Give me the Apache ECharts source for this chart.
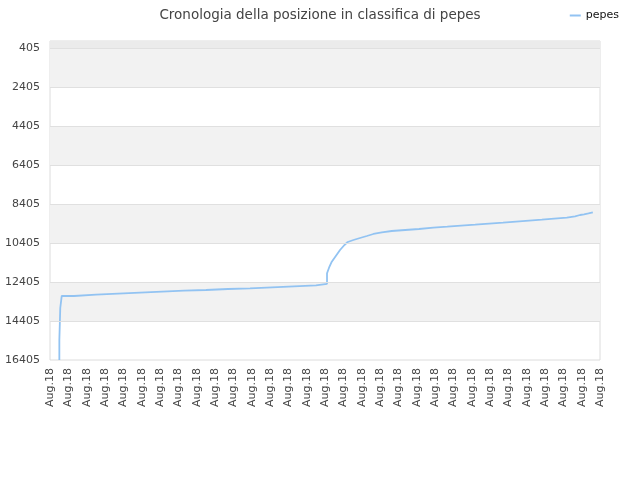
<!DOCTYPE html>
<html>
<head>
<meta charset="utf-8">
<script src="https://cdn.jsdelivr.net/npm/echarts@6/dist/echarts.min.js"></script>
<style>html,body{margin:0;padding:0;background:#fff}#c{width:640px;height:480px}</style>
</head>
<body>
<div id="c"></div>
<script>
// Day of month (fractional) and ranking position (corners included)
const days = [0.51, 0.51, 0.56, 0.56, 0.64, 0.64,
  1.31, 1.31, 2.51, 2.51, 3.71, 3.71, 4.91, 4.91, 6.11, 6.11, 7.31, 7.31, 8.51, 8.51, 9.71, 9.71,
  10.91, 10.91, 12.11, 12.11, 13.31, 13.31, 14.51, 14.51, 15.11, 15.11,
  15.22, 15.37, 15.59, 15.82, 16.06, 16.24, 16.55, 16.91, 17.28, 17.64, 18.10, 18.64, 19.37, 20.13, 20.91,
  21.67, 22.42, 23.19, 23.95, 24.71, 25.42, 26.13, 26.83, 27.50, 28.19, 28.64, 28.91, 29.13, 29.37, 29.61];
const ranks = [16405, 15379, 15379, 13738, 13738, 13122,
  13122, 13056, 13056, 13005, 13005, 12953, 12953, 12902, 12902, 12851, 12851, 12815, 12815, 12763, 12763, 12728,
  12728, 12676, 12676, 12625, 12625, 12574, 12574, 12500, 12500, 11958,
  11671, 11364, 11071, 10764, 10507, 10353, 10251, 10148, 10046, 9943, 9856, 9789, 9738, 9687, 9620,
  9569, 9517, 9466, 9415, 9364, 9312, 9261, 9210, 9158, 9107, 9035, 8969, 8933, 8882, 8830];
const yTicks = [405, 2405, 4405, 6405, 8405, 10405, 12405, 14405, 16405];
const xTickCount = 31;
const xLabel = 'Aug.18';
const seriesName = 'pepes';
const titleText = 'Cronologia della posizione in classifica di pepes';
const yMin = 46, yMax = 16405;
const grayBands = [[405, 2405], [4405, 6405], [8405, 10405], [12405, 14405]];
const topStrip = [yMin, 405];

const data = days.map((d, i) => [d, ranks[i]]);
const areaData = [[{ yAxis: topStrip[0], itemStyle: { color: '#ebebeb' } }, { yAxis: topStrip[1] }]]
  .concat(grayBands.map(b => [{ yAxis: b[0], itemStyle: { color: '#f2f2f2' } }, { yAxis: b[1] }]));
const lineData = yTicks.slice(0, -1).map(v => ({ yAxis: v }));

const chart = echarts.init(document.getElementById('c'));
chart.setOption({
  animation: false,
  textStyle: { fontFamily: 'DejaVu Sans' },
  title: {
    text: titleText, left: 'center', top: 3,
    textStyle: { fontSize: 13.5, fontWeight: 'normal', color: '#444', fontFamily: 'DejaVu Sans' }
  },
  legend: {
    right: 16, top: 5, itemWidth: 11, itemHeight: 2, itemGap: 6,
    icon: 'rect',
    textStyle: { fontSize: 11, color: '#111' },
    data: [seriesName]
  },
  grid: { left: 50, right: 40, top: 41, bottom: 120, show: true, borderColor: '#dcdcdc', borderWidth: 1, backgroundColor: '#fff' },
  xAxis: {
    type: 'value', min: 0, max: xTickCount - 1, interval: 1,
    axisLine: { show: false }, axisTick: { show: false }, splitLine: { show: false },
    axisLabel: { rotate: 90, formatter: () => xLabel, fontSize: 11, color: '#444', margin: 8, showMinLabel: true, showMaxLabel: true }
  },
  yAxis: {
    type: 'value', inverse: true, min: yMin, max: yMax,
    axisLine: { show: false }, axisTick: { show: false }, splitLine: { show: false }, splitArea: { show: false },
    axisLabel: { customValues: yTicks, formatter: v => String(v), fontSize: 11, color: '#444', margin: 10 }
  },
  series: [{
    name: seriesName, type: 'line', data: data, showSymbol: false,
    lineStyle: { color: '#92c3f2', width: 1.8 },
    itemStyle: { color: '#92c3f2' },
    markArea: { silent: true, data: areaData },
    markLine: { silent: true, symbol: 'none', label: { show: false },
      lineStyle: { color: '#e0e0e0', type: 'solid', width: 1 }, data: lineData }
  }]
});
</script>
</body>
</html>
